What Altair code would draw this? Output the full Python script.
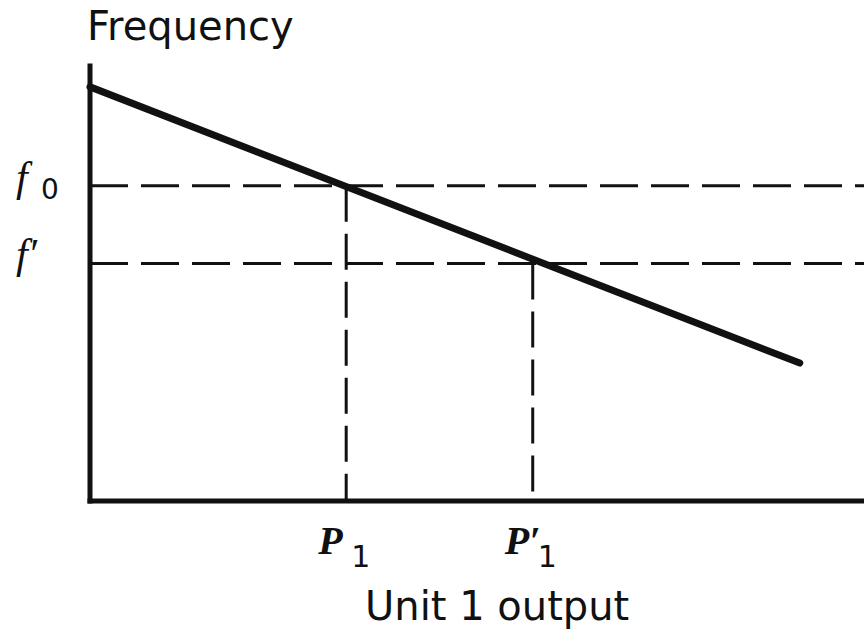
import altair as alt
import pandas as pd

# Frequency response of unit 1: output (x) against system frequency (y), arbitrary units
line_x = [0.0, 91.7]
line_y = [95.2, 31.7]

# frequency levels f0 and f'
freq_levels = [72.5, 54.6]
freq_main = ["f", "f\u2032"]
freq_sub = ["0", ""]

# corresponding unit 1 outputs P1 and P1'
output_levels = [33.1, 57.2]
output_main = ["P", "P\u2032"]
output_sub = ["1", "1"]

y_title = "Frequency"
x_title = "Unit 1 output"
x_title_pos = 52.6

xs = alt.Scale(domain=[0, 100], nice=False, zero=False)
ys = alt.Scale(domain=[0, 100], nice=False, zero=False)

INK = "#111111"

line_df = pd.DataFrame({"x": line_x, "y": line_y})
freq_df = pd.DataFrame({"level": freq_levels, "main": freq_main, "sub": freq_sub,
                        "x0": 0.0, "x1": 100.0})
out_df = pd.DataFrame({"pos": output_levels, "top": freq_levels, "main": output_main,
                       "sub": output_sub, "y0": 0.0})
axes_df = pd.DataFrame({"x": [0.0, 0.0], "x2": [0.0, 100.0],
                        "y": [100.0, 0.0], "y2": [0.0, 0.0]})
titles_df = pd.DataFrame({"x": [0.0, x_title_pos], "y": [100.0, 0.0],
                          "label": [y_title, x_title]})

# dashed guides at f0 and f'
h_dash = alt.Chart(freq_df).mark_rule(
    color=INK, strokeWidth=3, strokeDash=[38, 13]
).encode(
    x=alt.X("x0:Q", scale=xs, axis=None),
    x2="x1:Q",
    y=alt.Y("level:Q", scale=ys, axis=None),
)

# dashed drops to P1 and P1'
v_dash = alt.Chart(out_df).mark_rule(
    color=INK, strokeWidth=3, strokeDash=[36, 12]
).encode(
    x=alt.X("pos:Q", scale=xs, axis=None),
    y=alt.Y("top:Q", scale=ys, axis=None),
    y2="y0:Q",
)

# axis lines
axes = alt.Chart(axes_df).mark_rule(
    color=INK, strokeWidth=5, strokeCap="square"
).encode(
    x=alt.X("x:Q", scale=xs, axis=None),
    x2="x2:Q",
    y=alt.Y("y:Q", scale=ys, axis=None),
    y2="y2:Q",
)

# droop characteristic
droop = alt.Chart(line_df).mark_line(
    color=INK, strokeWidth=7, strokeCap="round"
).encode(
    x=alt.X("x:Q", scale=xs, axis=None),
    y=alt.Y("y:Q", scale=ys, axis=None),
)

# f labels on the frequency axis
f_main = alt.Chart(freq_df).mark_text(
    align="left", baseline="alphabetic", dx=-74, dy=5,
    font="Liberation Serif", fontStyle="italic", fontSize=42, color=INK
).encode(
    x=alt.X("x0:Q", scale=xs, axis=None),
    y=alt.Y("level:Q", scale=ys, axis=None),
    text="main:N",
)
f_sub = alt.Chart(freq_df).mark_text(
    align="left", baseline="alphabetic", dx=-49, dy=13,
    font="DejaVu Sans", fontSize=28, color=INK
).encode(
    x=alt.X("x0:Q", scale=xs, axis=None),
    y=alt.Y("level:Q", scale=ys, axis=None),
    text="sub:N",
)

# P labels under the output axis
p_main = alt.Chart(out_df).mark_text(
    align="left", baseline="alphabetic", dx=-28, dy=53,
    font="Liberation Serif", fontStyle="italic", fontWeight="bold",
    fontSize=40, color=INK
).encode(
    x=alt.X("pos:Q", scale=xs, axis=None),
    y=alt.Y("y0:Q", scale=ys, axis=None),
    text="main:N",
)
p_sub = alt.Chart(out_df).mark_text(
    align="left", baseline="alphabetic", dx=5, dy=66,
    font="DejaVu Sans", fontSize=30, color=INK
).encode(
    x=alt.X("pos:Q", scale=xs, axis=None),
    y=alt.Y("y0:Q", scale=ys, axis=None),
    text="sub:N",
)

# axis titles
y_lab = alt.Chart(titles_df.iloc[[0]]).mark_text(
    align="left", baseline="alphabetic", dx=-3, dy=-26,
    font="DejaVu Sans", fontSize=40, color=INK
).encode(
    x=alt.X("x:Q", scale=xs, axis=None),
    y=alt.Y("y:Q", scale=ys, axis=None),
    text="label:N",
)
x_lab = alt.Chart(titles_df.iloc[[1]]).mark_text(
    align="center", baseline="alphabetic", dy=119,
    font="DejaVu Sans", fontSize=40, color=INK
).encode(
    x=alt.X("x:Q", scale=xs, axis=None),
    y=alt.Y("y:Q", scale=ys, axis=None),
    text="label:N",
)

chart = alt.layer(
    h_dash, v_dash, axes, droop, f_main, f_sub, p_main, p_sub, y_lab, x_lab
).properties(
    width=774,
    height=435,
    padding={"left": 90, "top": 66, "right": 0, "bottom": 131},
    autosize=alt.AutoSizeParams(type="none"),
    background="white",
).configure_view(stroke=None)

chart.save("out.html", embed_options={"renderer": "svg", "actions": False})
